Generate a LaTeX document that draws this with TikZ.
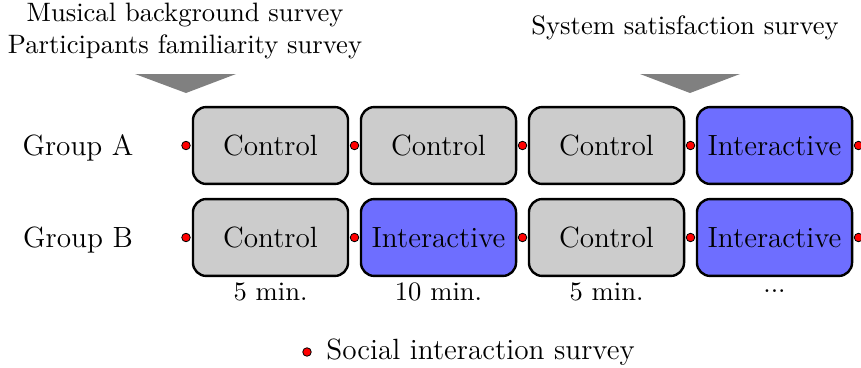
\documentclass[tikz,border=0pt]{standalone}
\usetikzlibrary{positioning}

\begin{document}
\begin{tikzpicture}[x=0.3759pt,y=-0.3759pt,
        big/.style={font=\fontsize{11}{13.6}\selectfont},
        session/.style={big,draw,line width=0.9pt,rounded corners=5pt,minimum width=58.3pt,minimum height=28.9pt,inner sep=0pt},
        ctrl/.style={session,fill=black!20},
        inter/.style={session,fill=blue!57},
        survey/.style={draw,circle,fill=red,inner sep=0pt,minimum size=3.2pt,line width=0.3pt},
        span/.style={text height=1.5ex,text depth=.25ex}]
        \useasboundingbox (0,0) rectangle (861,367);

        % surveys before and after
        \node[align=center] (pre) at (185,31) {Musical background survey\\Participants familiarity survey};
        \node (post) at (685,28) {System satisfaction survey};
        \fill[gray] (135,74) -- (236,74) -- (186,93) -- cycle;
        \fill[gray] (640,74) -- (740,74) -- (690,93) -- cycle;

        % group A
        \node[big] (ga) at (78,148) {Group A};
        \node[ctrl] (a1) at (270.5,145.5) {Control};
        \node[ctrl] (a2) at (438.5,145.5) {Control};
        \node[ctrl] (a3) at (606.5,145.5) {Control};
        \node[inter] (a4) at (774.5,145.5) {Interactive};
        \foreach \x [count=\i] in {186,354.5,522.5,690.5,858.5}
            \node[survey] (da\i) at (\x,145.5) {};

        % group B
        \node[big] (gb) at (78,240) {Group B};
        \node[ctrl] (b1) at (270.5,237.5) {Control};
        \node[inter] (b2) at (438.5,237.5) {Interactive};
        \node[ctrl] (b3) at (606.5,237.5) {Control};
        \node[inter] (b4) at (774.5,237.5) {Interactive};
        \foreach \x [count=\i] in {186,354.5,522.5,690.5,858.5}
            \node[survey] (db\i) at (\x,237.5) {};

        % durations
        \node[span,below=-1.2pt of b1] (t1) {5 min.};
        \node[span,below=-1.2pt of b2] (t2) {10 min.};
        \node[span,below=-1.2pt of b3] (t3) {5 min.};
        \node[span,below=-1.2pt of b4,yshift=3pt] (t4) {...};

        % legend
        \node[survey] (key) at (307,352) {};
        \node[big,right=2pt of key] (keytext) {Social interaction survey};
    \end{tikzpicture}
\end{document}
